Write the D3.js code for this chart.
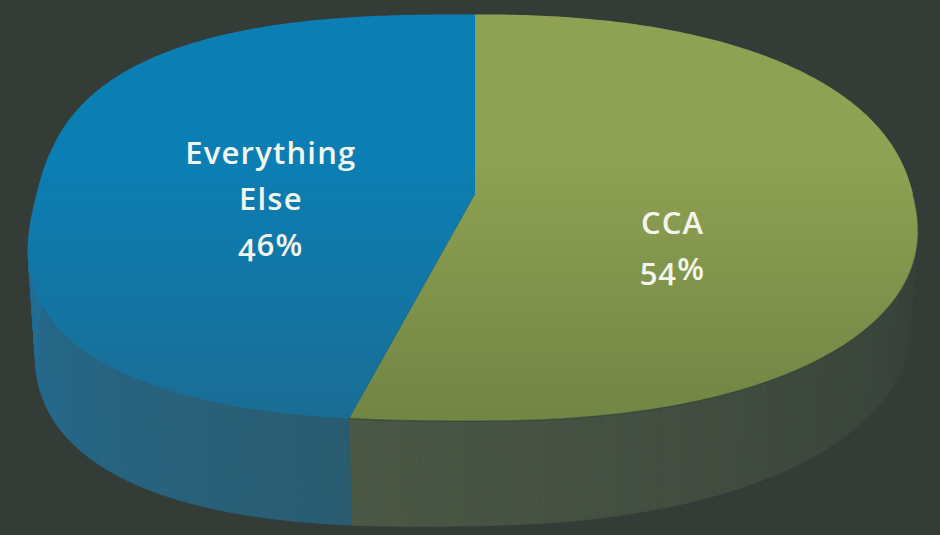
<!DOCTYPE html>
<html>
<head>
<meta charset="utf-8">
<script src="https://cdn.jsdelivr.net/npm/d3@7/dist/d3.min.js"></script>
<style>
  html, body { margin: 0; padding: 0; background: #343c37; }
  svg { display: block; }
  text { font-family: "Open Sans", "Noto Sans", sans-serif; font-weight: 600; font-variant-numeric: oldstyle-nums; font-feature-settings: "onum" 1; }
</style>
</head>
<body>
<svg id="chart" width="940" height="535"></svg>
<script>
// ---- data ----
const categories = ["CCA", "Everything Else"];
const values = [54, 46];
const labelLines = [["CCA", "54%"], ["Everything", "Else", "46%"]];

// ---- styles ----
const topColors = [["#8fa152", "#718545"], ["#0b7fb4", "#1a6d95"]];
const sideColors = [["#4b5845", "#323c37"], ["#2a5c70", "#22709a"]];
const labelR = [0.45, 0.47];
const labelDy = [41, 17];

const W = 940, H = 535;
const svg = d3.select("#chart");
svg.append("rect").attr("width", W).attr("height", H).attr("fill", "#343c37");

// perspective projection of a tilted (slightly squarish) disc
const cx = 475, cy = 194, K = 438;
const sinP = 0.458, cosP = Math.sqrt(1 - sinP * sinP), D = 7.6;
function sqOf(a) { return Math.sin(a) >= 0 ? 2.25 : 2.65; }
function thickOf(a) { return 0.25 - 0.02 * Math.sin(a); }
function shapeR(a) {
  const sq = sqOf(a);
  return Math.pow(Math.pow(Math.abs(Math.sin(a)), sq) + Math.pow(Math.abs(Math.cos(a)), sq), -1 / sq);
}
function proj(a, r, y) {
  const rr = r * shapeR(a);
  const u = rr * Math.sin(a), v = rr * Math.cos(a);
  const yc = y * cosP + v * sinP;
  const zc = -y * sinP + v * cosP;
  const s = 1 / (1 + zc / D);
  return [cx + K * u * s, cy - K * yc * s];
}

const pie = d3.pie().sort(null).value(d => d).startAngle(0).endAngle(2 * Math.PI);
const arcs = pie(values);
const line = d3.line();
const defs = svg.append("defs");

// side walls (front half only)
const sideG = svg.append("g");
arcs.forEach((d, i) => {
  const a0 = Math.max(d.startAngle, Math.PI / 2 - 0.2);
  const a1 = Math.min(d.endAngle, 3 * Math.PI / 2 + 0.2);
  if (a1 <= a0) return;
  const n = Math.ceil((a1 - a0) / (Math.PI / 180));
  const col = d3.scaleLinear()
    .domain(i === 0 ? [d.endAngle, Math.PI / 2] : [d.startAngle, 3 * Math.PI / 2])
    .range(sideColors[i]).interpolate(d3.interpolateRgb).clamp(true);
  for (let k = 0; k < n; k++) {
    const b0 = a0 + (a1 - a0) * k / n, b1 = a0 + (a1 - a0) * (k + 1) / n;
    const pts = [proj(b0, 1, 0), proj(b1, 1, 0), proj(b1, 1, -thickOf(b1)), proj(b0, 1, -thickOf(b0))];
    const c = col((b0 + b1) / 2);
    sideG.append("path").attr("d", line(pts) + "Z").attr("fill", c).attr("stroke", c).attr("stroke-width", 0.8);
  }
});

// top faces
const topG = svg.append("g");
arcs.forEach((d, i) => {
  const gid = "tg" + i;
  const gr = defs.append("linearGradient").attr("id", gid).attr("x1", 0).attr("y1", 0).attr("x2", 0).attr("y2", 1);
  gr.append("stop").attr("offset", "0%").attr("stop-color", topColors[i][0]);
  gr.append("stop").attr("offset", "35%").attr("stop-color", topColors[i][0]);
  gr.append("stop").attr("offset", "100%").attr("stop-color", topColors[i][1]);
  const n = 240;
  const pts = [proj(0, 0, 0)];
  for (let k = 0; k <= n; k++) {
    const a = d.startAngle + (d.endAngle - d.startAngle) * k / n;
    pts.push(proj(a, 1, 0));
  }
  topG.append("path").attr("d", line(pts) + "Z").attr("fill", `url(#${gid})`);
});

// front rim edge (CCA part)
const rim = [];
for (let k = 0; k <= 120; k++) rim.push(proj(Math.PI / 2 + (arcs[0].endAngle - Math.PI / 2) * k / 120, 1, 0));
svg.append("path").attr("d", line(rim)).attr("fill", "none").attr("stroke", "#2c3a3c").attr("stroke-opacity", 0.55).attr("stroke-width", 1.5);

// labels
const lineH = 46;
arcs.forEach((d, i) => {
  const mid = (d.startAngle + d.endAngle) / 2;
  const p = proj(mid, labelR[i], 0);
  const lines = labelLines[i];
  const t = svg.append("text").attr("text-anchor", "middle").attr("fill", "#f4f6ee")
    .attr("font-size", 31).attr("letter-spacing", 1.2);
  lines.forEach((s, j) => {
    t.append("tspan").attr("x", p[0]).attr("y", p[1] + labelDy[i] + (j - (lines.length - 1) / 2) * lineH + 11).text(s);
  });
});
</script>
</body>
</html>
